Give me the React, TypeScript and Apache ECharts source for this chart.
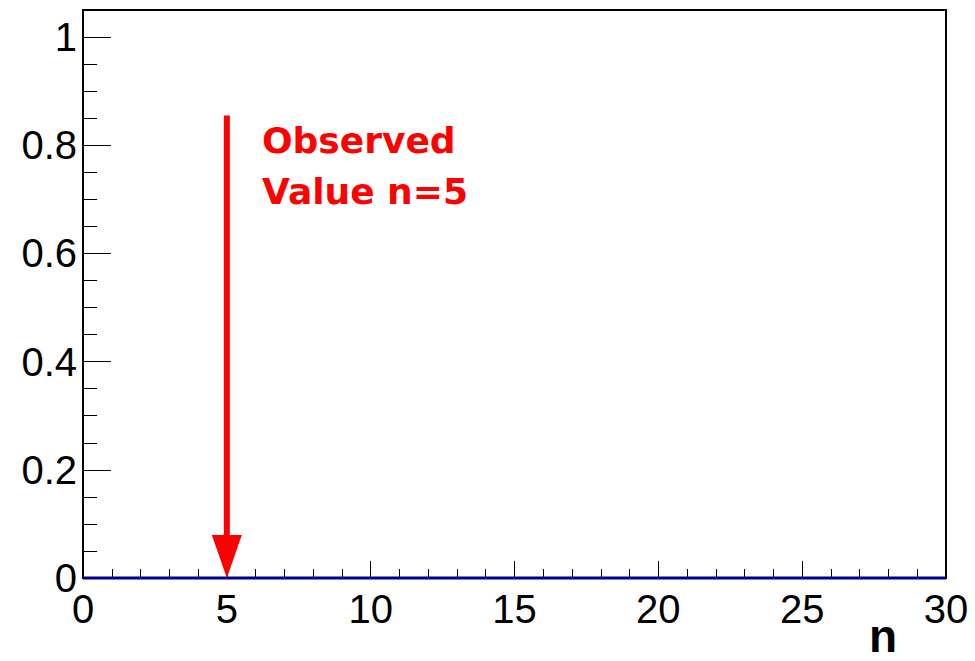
import React, { useEffect, useRef } from "react";
import * as echarts from "echarts";

const nValues = [0, 1, 2, 3, 4, 5, 6, 7, 8, 9, 10, 11, 12, 13, 14, 15, 16, 17, 18, 19, 20, 21, 22, 23, 24, 25, 26, 27, 28, 29, 30];
const probabilities = [0, 0, 0, 0, 0, 0, 0, 0, 0, 0, 0, 0, 0, 0, 0, 0, 0, 0, 0, 0, 0, 0, 0, 0, 0, 0, 0, 0, 0, 0, 0];
const observedN = 5;
const arrowTop = 0.855;
const annotationLines = ["Observed", "Value n=5"];
const xTitle = "n";

export default function App() {
  const ref = useRef<HTMLDivElement>(null);
  useEffect(() => {
    if (!ref.current) return;
    const chart = echarts.init(ref.current, null, { renderer: "svg" });
    const fmtY = (v: number) => {
      const k = Math.round(v / 0.2);
      return Math.abs(v - k * 0.2) < 1e-6 ? String(parseFloat(v.toFixed(1))) : "";
    };
    chart.setOption({
      animation: false,
      backgroundColor: "#fff",
      grid: {
        left: 83, top: 10, right: 29, bottom: 83,
        show: true, borderColor: "#000", borderWidth: 2, backgroundColor: "transparent",
      },
      xAxis: [
        {
          type: "value", min: 0, max: 30, interval: 5, position: "bottom",
          axisLine: { show: true, onZero: false, lineStyle: { color: "#000", width: 2 } },
          axisTick: { show: true, inside: true, length: 17, lineStyle: { color: "#000", width: 1 } },
          axisLabel: { show: true, margin: 11, fontSize: 40, color: "#000", fontFamily: "Liberation Sans, Arial, sans-serif" },
          splitLine: { show: false },
        },
        {
          type: "value", min: 0, max: 30, interval: 1, position: "bottom",
          axisLine: { show: false },
          axisTick: { show: true, inside: true, length: 9, lineStyle: { color: "#000", width: 1 } },
          axisLabel: { show: false },
          splitLine: { show: false },
        },
      ],
      yAxis: [
        {
          type: "value", min: 0, max: 1.05, interval: 0.2, position: "left",
          axisLine: { show: true, onZero: false, lineStyle: { color: "#000", width: 2 } },
          axisTick: { show: true, inside: true, length: 28, lineStyle: { color: "#000", width: 1 } },
          axisLabel: { show: true, margin: 6, fontSize: 40, color: "#000", formatter: fmtY, fontFamily: "Liberation Sans, Arial, sans-serif" },
          splitLine: { show: false },
        },
        {
          type: "value", min: 0, max: 1.05, interval: 0.05, position: "left",
          axisLine: { show: false },
          axisTick: { show: true, inside: true, length: 14, lineStyle: { color: "#000", width: 1 } },
          axisLabel: { show: false },
          splitLine: { show: false },
        },
      ],
      graphic: [
        {
          type: "text", left: 262, top: 122,
          style: { text: annotationLines[0], fill: "#ff0000", font: "bold 36px 'DejaVu Sans', sans-serif" },
        },
        {
          type: "text", left: 262, top: 173,
          style: { text: annotationLines[1], fill: "#ff0000", font: "bold 36px 'DejaVu Sans', sans-serif" },
        },
        {
          type: "text", right: 78, bottom: 2,
          style: { text: xTitle, fill: "#000", font: "bold 46px 'Liberation Sans', Arial, sans-serif" },
        },
      ],
      series: [
        {
          type: "line",
          xAxisIndex: 0, yAxisIndex: 0,
          data: nValues.map((n, i) => [n, probabilities[i]]),
          symbol: "none",
          clip: false,
          lineStyle: { color: "#000090", width: 3 },
          z: 5,
        },
        {
          type: "custom",
          xAxisIndex: 0, yAxisIndex: 0,
          data: [[observedN, arrowTop]],
          clip: false,
          z: 6,
          renderItem: (params: any, api: any) => {
            const top = api.coord([api.value(0), api.value(1)]);
            const bot = api.coord([api.value(0), 0]);
            const headH = 43, headW = 30;
            return {
              type: "group",
              children: [
                {
                  type: "line",
                  shape: { x1: top[0], y1: top[1], x2: bot[0], y2: bot[1] - headH + 2 },
                  style: { stroke: "#ff0000", lineWidth: 6 },
                },
                {
                  type: "polygon",
                  shape: { points: [[bot[0] - headW / 2, bot[1] - headH], [bot[0] + headW / 2, bot[1] - headH], [bot[0], bot[1]]] },
                  style: { fill: "#ff0000" },
                },
              ],
            };
          },
        },
      ],
    });
    return () => chart.dispose();
  }, []);
  return <div ref={ref} style={{ position: "fixed", left: 0, top: 0, width: 975, height: 661 }} />;
}
